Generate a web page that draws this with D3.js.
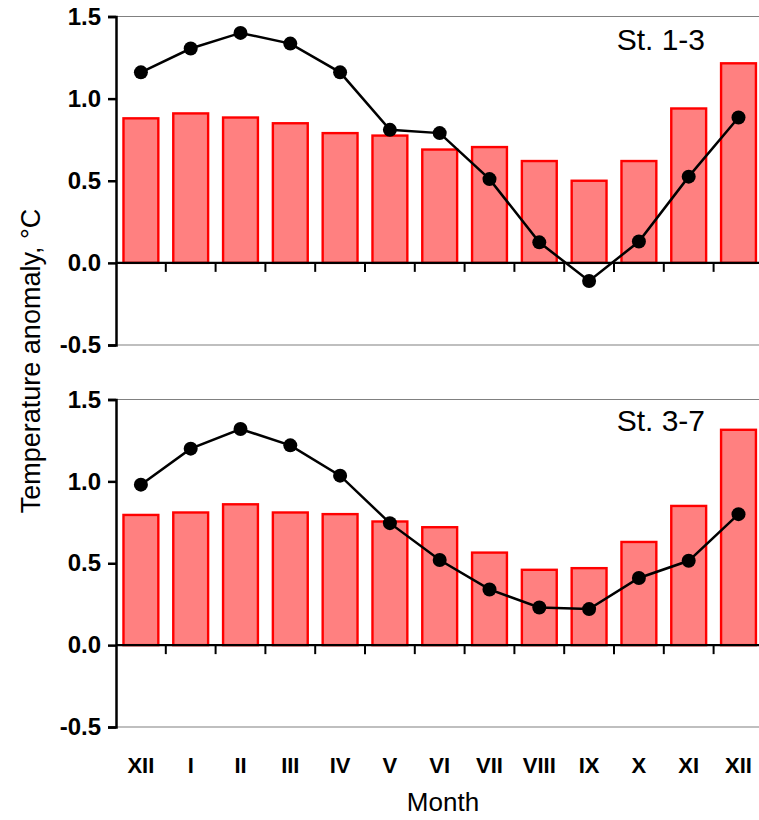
<!DOCTYPE html>
<html>
<head>
<meta charset="utf-8">
<script src="https://cdn.jsdelivr.net/npm/d3@7"></script>
<style>
  body { margin: 0; background: #fff; }
  svg { display: block; font-family: Arial, "Liberation Sans", sans-serif; }
</style>
</head>
<body>
<div id="chart"></div>
<script>
// month labels (Dec of previous year through Dec)
var months = ["XII", "I", "II", "III", "IV", "V", "VI", "VII", "VIII", "IX", "X", "XI", "XII"];
var yTicks = [-0.5, 0, 0.5, 1.0, 1.5];

// St. 1-3
var bars13 = [0.88, 0.91, 0.885, 0.85, 0.79, 0.775, 0.69, 0.705, 0.62, 0.50, 0.62, 0.94, 1.215];
var line13 = [1.16, 1.305, 1.40, 1.335, 1.16, 0.81, 0.79, 0.51, 0.125, -0.11, 0.13, 0.525, 0.885];

// St. 3-7
var bars37 = [0.795, 0.81, 0.86, 0.81, 0.80, 0.755, 0.72, 0.565, 0.46, 0.47, 0.63, 0.85, 1.315];
var line37 = [0.98, 1.20, 1.32, 1.22, 1.035, 0.745, 0.52, 0.34, 0.23, 0.22, 0.41, 0.515, 0.80];

var panelNames = ["St. 1-3", "St. 3-7"];

var W = 759, H = 820;
var svg = d3.select("#chart").append("svg")
    .attr("width", W)
    .attr("height", H);

// band scale shared by both panels
var x = d3.scaleBand()
    .domain(d3.range(months.length))
    .range([116, 116 + 49.8 * months.length])
    .paddingInner(0.3)
    .paddingOuter(0.15);

var xEdges = d3.range(1, months.length).map(function(i) { return 116 + 49.8 * i; });

// plain hyphen for negatives, like the original
var fmt = function(d) { return d3.format(".1f")(d).replace("\u2212", "-"); };

function drawPanel(top, bottom, bars, line, name, nameY, showX) {
    var y = d3.scaleLinear().domain([-0.5, 1.5]).range([bottom, top]);
    var g = svg.append("g");

    // thin gray frame lines at top and bottom
    g.append("line")
        .attr("x1", 116).attr("x2", W)
        .attr("y1", y(1.5)).attr("y2", y(1.5))
        .attr("stroke", "#808080").attr("stroke-width", 1.2);
    g.append("line")
        .attr("x1", 116).attr("x2", W)
        .attr("y1", y(-0.5)).attr("y2", y(-0.5))
        .attr("stroke", "#808080").attr("stroke-width", 1.2);

    // bars
    g.selectAll("rect.bar").data(bars).enter().append("rect")
        .attr("class", "bar")
        .attr("x", function(d, i) { return x(i); })
        .attr("width", x.bandwidth())
        .attr("y", function(d) { return y(d); })
        .attr("height", function(d) { return y(0) - y(d); })
        .attr("fill", "#ff8080")
        .attr("stroke", "#ff0000")
        .attr("stroke-width", 2.4);

    // zero line + category ticks
    g.append("line")
        .attr("x1", 116).attr("x2", W)
        .attr("y1", y(0)).attr("y2", y(0))
        .attr("stroke", "#000").attr("stroke-width", 2.2);
    g.selectAll("line.xt").data(xEdges).enter().append("line")
        .attr("class", "xt")
        .attr("x1", function(d) { return d; }).attr("x2", function(d) { return d; })
        .attr("y1", y(0)).attr("y2", y(0) + 9)
        .attr("stroke", "#000").attr("stroke-width", 2);

    // y axis
    var yAxis = d3.axisLeft(y).tickValues(yTicks).tickSize(8).tickPadding(7)
        .tickFormat(fmt);
    var ya = g.append("g").attr("transform", "translate(116,0)").call(yAxis);
    ya.select(".domain").attr("stroke", "#000").attr("stroke-width", 2.5);
    ya.selectAll(".tick line").attr("stroke", "#000").attr("stroke-width", 2.5);
    ya.selectAll(".tick text")
        .attr("fill", "#000")
        .style("font-size", "24px")
        .style("font-weight", "bold")
        .style("font-family", "Arial, 'Liberation Sans', sans-serif");

    // line with dots
    var lineGen = d3.line()
        .x(function(d, i) { return x(i) + x.bandwidth() / 2; })
        .y(function(d) { return y(d); });
    g.append("path")
        .datum(line)
        .attr("d", lineGen)
        .attr("fill", "none")
        .attr("stroke", "#000")
        .attr("stroke-width", 2.5);
    g.selectAll("circle").data(line).enter().append("circle")
        .attr("cx", function(d, i) { return x(i) + x.bandwidth() / 2; })
        .attr("cy", function(d) { return y(d); })
        .attr("r", 7)
        .attr("fill", "#000");

    g.append("text")
        .attr("x", 705).attr("y", nameY)
        .attr("text-anchor", "end")
        .style("font-size", "30px")
        .text(name);

    if (showX) {
        g.selectAll("text.mon").data(months).enter().append("text")
            .attr("class", "mon")
            .attr("x", function(d, i) { return x(i) + x.bandwidth() / 2; })
            .attr("y", 773)
            .attr("text-anchor", "middle")
            .style("font-size", "22px")
            .style("font-weight", "bold")
            .text(function(d) { return d; });
    }
}

drawPanel(16.5, 345, bars13, line13, panelNames[0], 50, false);
drawPanel(399.5, 727, bars37, line37, panelNames[1], 431, true);

svg.append("text")
    .attr("x", 443).attr("y", 811)
    .attr("text-anchor", "middle")
    .style("font-size", "26px")
    .text("Month");

svg.append("text")
    .attr("transform", "translate(40,361) rotate(-90)")
    .attr("text-anchor", "middle")
    .style("font-size", "27px")
    .text("Temperature anomaly, °C");
</script>
</body>
</html>
